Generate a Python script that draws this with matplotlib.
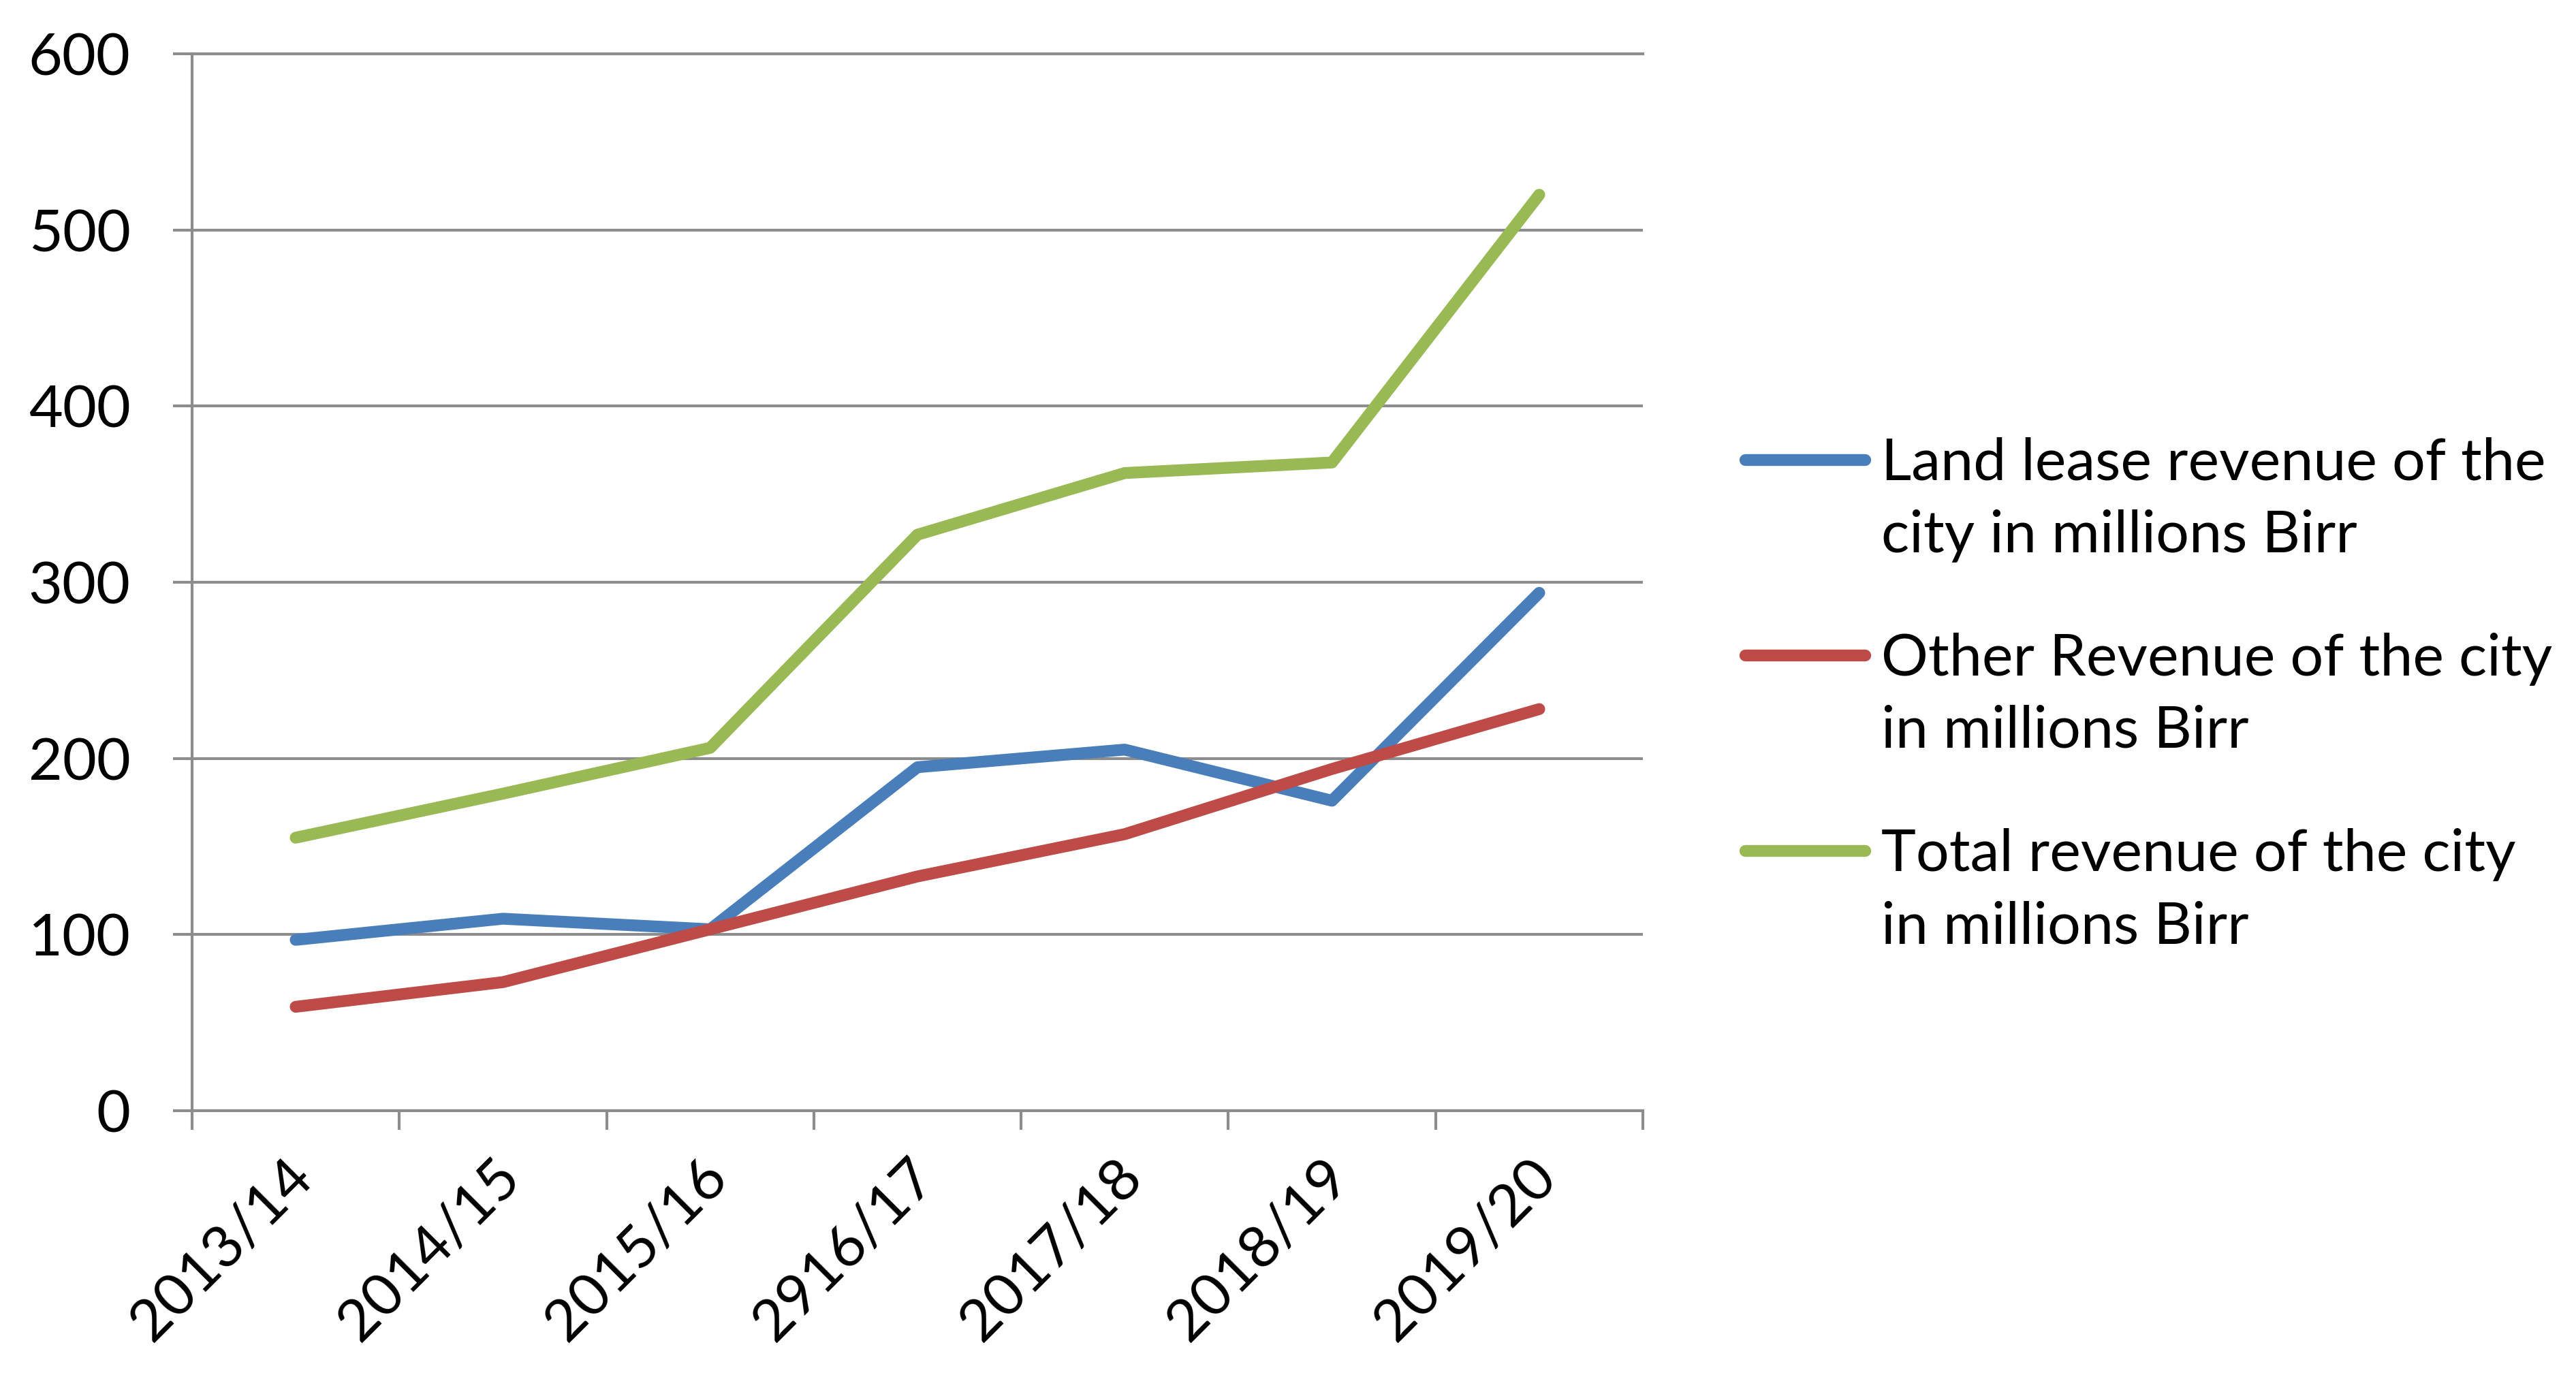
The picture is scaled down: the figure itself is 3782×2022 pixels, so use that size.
import numpy as np
import matplotlib
matplotlib.use("Agg")
import matplotlib.pyplot as plt
from matplotlib.lines import Line2D
from matplotlib.transforms import ScaledTranslation

plt.rcParams['font.family'] = ['Lato', 'DejaVu Sans']

# data (millions Birr)
years = ["2013/14", "2014/15", "2015/16", "2916/17", "2017/18", "2018/19", "2019/20"]
land_lease = [97, 109, 103, 195, 205, 176, 294]
other_rev = [59, 73, 103, 133, 157, 194, 228]
total_rev = [155, 180, 206, 327, 362, 368, 520]

names = ["Land lease revenue of the\ncity in millions Birr",
         "Other Revenue of the city\nin millions Birr",
         "Total revenue of the city\nin millions Birr"]
colors = ["#4A7EBB", "#BE4B48", "#98B954"]
grey = "#8c8c8c"

W, H = 3782, 2022
fig = plt.figure(figsize=(W / 100, H / 100), dpi=100)
ax = fig.add_axes([282 / W, (H - 1631) / H, (2412 - 282) / W, (1631 - 79) / H])

x = np.arange(len(years))
for vals, c in zip([land_lease, other_rev, total_rev], colors):
    ax.plot(x, vals, color=c, lw=12.5, solid_capstyle='round', solid_joinstyle='round', zorder=3)

ax.set_xlim(-0.5, len(years) - 0.5)
ax.set_ylim(0, 600)
ax.set_yticks(np.arange(0, 601, 100))
ax.yaxis.grid(True, color=grey, lw=3)
ax.set_axisbelow(True)

ax.spines['right'].set_visible(False)
for s in ['left', 'bottom', 'top']:
    ax.spines[s].set_color(grey)
    ax.spines[s].set_linewidth(3)

ax.tick_params(axis='y', direction='out', length=20, width=3, color=grey,
               pad=45, labelsize=62)
ax.set_xticks(x)
ax.set_xticks(np.arange(-0.5, len(years)), minor=True)
ax.tick_params(axis='x', which='major', length=0, pad=61, labelsize=62)
ax.tick_params(axis='x', which='minor', direction='out', length=20, width=3, color=grey)
ax.set_xticklabels(years, rotation=45, ha='right', va='center', rotation_mode='anchor')
shift = ScaledTranslation(0.12, 0, fig.dpi_scale_trans)
for lab in ax.get_xticklabels():
    lab.set_transform(lab.get_transform() + shift)

# legend drawn by hand so the line sits at the first text row
leg_y = [675, 962, 1249]
for name, c, yy in zip(names, colors, leg_y):
    fy = (H - yy) / H
    fig.add_artist(Line2D([2562 / W, 2738 / W], [fy, fy], color=c, lw=12.5,
                          solid_capstyle='round', transform=fig.transFigure))
    # va='baseline' pins the last row; put it one row below the handle
    fig.text(2762 / W, (H - yy - 136) / H, name, fontsize=62, va='baseline', ha='left',
             linespacing=1.45)

fig.savefig("out.png", dpi=100, facecolor='white')
